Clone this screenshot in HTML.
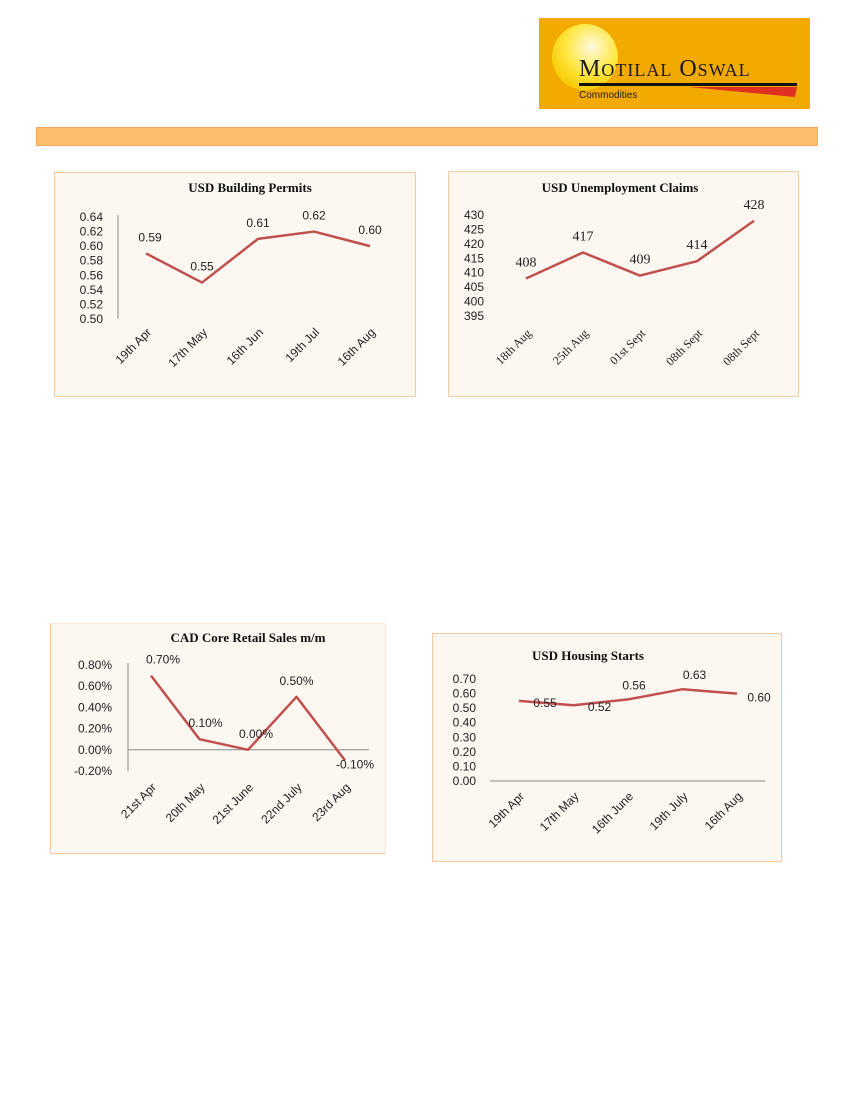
<!DOCTYPE html>
<html><head><meta charset="utf-8">
<style>
body{margin:0;width:850px;height:1100px;background:#fff;position:relative;overflow:hidden;font-family:"Liberation Sans",sans-serif}
.box{position:absolute;background:#fdf7f2;border:1.5px solid #f6c9a0;box-sizing:border-box}
svg{position:absolute;left:0;top:0}
</style></head><body>
<div style="position:absolute;left:539px;top:18px;width:271px;height:91px;background:#f2a900;overflow:hidden">
 <div style="position:absolute;left:13px;top:6px;width:66px;height:66px;border-radius:50%;background:radial-gradient(circle at 60% 35%,#fffbe0,#ffe640 45%,#f5c800 80%)"></div>
 <div style="position:absolute;left:40px;top:38px;font-family:'Liberation Serif',serif;font-size:24px;color:#1a1a1a;letter-spacing:1px">M<span style="font-size:18px">OTILAL</span> O<span style="font-size:18px">SWAL</span></div>
 <div style="position:absolute;left:40px;top:65px;width:218px;height:3px;background:#111"></div>
 <div style="position:absolute;left:40px;top:72px;font-size:10px;color:#222">Commodities</div>
 <div style="position:absolute;left:150px;top:69px;width:108px;height:10px;background:#e03020;clip-path:polygon(0 0,100% 0,98% 100%)"></div>
</div>
<div style="position:absolute;left:36px;top:127px;width:782px;height:19px;background:#fbbf6e;border:1px solid #f0a860;box-sizing:border-box"></div>

<div class="box" style="left:54px;top:172px;width:362px;height:225px"></div>
<div class="box" style="left:448px;top:171px;width:351px;height:226px"></div>
<div class="box" style="left:50px;top:623px;width:336px;height:231px;border-top-color:#fde8d8;border-right-color:#fde8d8"></div>
<div class="box" style="left:432px;top:633px;width:350px;height:229px"></div>

<svg id="s" width="850" height="1100"></svg>
<script>
const c1Cats=["19th Apr","17th May","16th Jun","19th Jul","16th Aug"];
const c1Vals=[0.59,0.55,0.61,0.62,0.60];
const c1Ticks=[0.50,0.52,0.54,0.56,0.58,0.60,0.62,0.64];
const c2Cats=["18th Aug","25th Aug","01st Sept","08th Sept","08th Sept"];
const c2Vals=[408,417,409,414,428];
const c2Ticks=[395,400,405,410,415,420,425,430];
const c3Cats=["21st Apr","20th May","21st June","22nd July","23rd Aug"];
const c3Vals=[0.70,0.10,0.00,0.50,-0.10];
const c3Ticks=[-0.20,0.00,0.20,0.40,0.60,0.80];
const c4Cats=["19th Apr","17th May","16th June","19th July","16th Aug"];
const c4Vals=[0.55,0.52,0.56,0.63,0.60];
const c4Ticks=[0,0.1,0.2,0.3,0.4,0.5,0.6,0.7];

const NS="http://www.w3.org/2000/svg",S=document.getElementById('s');
function mk(t,a,txt){const e=document.createElementNS(NS,t);for(const k in a)e.setAttribute(k,a[k]);if(txt!=null)e.textContent=txt;S.appendChild(e);return e;}
function chart(o){
  const vmin=o.ticks[0],vmax=o.ticks[o.ticks.length-1];
  const y=v=>o.yBot-(v-vmin)/(vmax-vmin)*(o.yBot-o.yTop);
  const x=i=>o.x0+i*o.dx;
  let t=mk('text',{x:o.tx,y:o.ty,'text-anchor':'middle','font-family':'Liberation Serif,serif','font-weight':'bold','font-size':13,fill:'#111'},o.title);
  
  if(o.yAxis){let ax=mk('line',{x1:o.axX,y1:o.yTop-2,x2:o.axX,y2:o.yBot,stroke:'#888'});
  }
  o.ticks.forEach(v=>{let e=mk('text',{x:o.lblX,y:y(v)+4,'text-anchor':'end','font-size':12,fill:'#222'},o.fmt(v));
    });
  if(o.xAxis){let xa=mk('line',{x1:o.axX,y1:y(o.xAxisV),x2:o.xEnd,y2:y(o.xAxisV),stroke:'#888'});
    }
  let p=mk('polyline',{points:o.vals.map((v,i)=>x(i)+','+y(v)).join(' '),fill:'none',stroke:'#c0504d','stroke-width':2.5,'stroke-linejoin':'round'});
  
  o.vals.forEach((v,i)=>{let e=mk('text',{x:x(i)+(o.lblDx?o.lblDx[i]:0),y:y(v)+(o.lblDy?o.lblDy[i]:-12),'text-anchor':'middle','font-size':o.lfs||12,fill:'#222','font-family':o.lf||'Liberation Sans,sans-serif'},o.fmt2(v));
    });
  o.cats.forEach((c,i)=>{const cx=x(i)+6,cy=o.catY;let e=mk('text',{x:cx,y:cy,'text-anchor':'end','font-size':12,fill:'#222','font-family':o.cf||'Liberation Sans,sans-serif',transform:`rotate(-45 ${cx} ${cy})`},c);
    });
}
chart({title:"USD Building Permits",tx:250,ty:192,cats:c1Cats,vals:c1Vals,ticks:c1Ticks,yTop:217,yBot:319,x0:146,dx:56,axX:118,lblX:103,catY:333,yAxis:true,
  fmt:v=>v.toFixed(2),fmt2:v=>v.toFixed(2),lblDx:[4,0,0,0,0]});
chart({title:"USD Unemployment Claims",tx:620,ty:192,cats:c2Cats,vals:c2Vals,ticks:c2Ticks,yTop:215,yBot:316,x0:526,dx:57,axX:470,lblX:484,catY:334,
  fmt:v=>String(v),fmt2:v=>String(v),lf:'Liberation Serif,serif',lfs:14,cf:'Liberation Serif,serif',lblDy:[-12,-12,-12,-12,-12],lblDx:[0,0,0,0,0]});
chart({title:"CAD Core Retail Sales m/m",tx:248,ty:642,cats:c3Cats,vals:c3Vals,ticks:c3Ticks,yTop:665,yBot:771,x0:151,dx:48.5,axX:128,lblX:112,catY:788,yAxis:true,
  fmt:v=>v.toFixed(2)+'%',fmt2:v=>v.toFixed(2)+'%',xAxis:true,xAxisV:0,xEnd:369,lblDx:[12,6,8,0,10],lblDy:[-12,-12,-12,-12,8]});
chart({title:"USD Housing Starts",tx:588,ty:660,cats:c4Cats,vals:c4Vals,ticks:c4Ticks,yTop:679,yBot:781,x0:519,dx:54.5,axX:490,lblX:476,catY:797,
  fmt:v=>v.toFixed(2),fmt2:v=>v.toFixed(2),xAxis:true,xAxisV:0,xEnd:765,lblDx:[26,26,6,12,22],lblDy:[6,6,-10,-10,8]});
</script>
</body></html>
